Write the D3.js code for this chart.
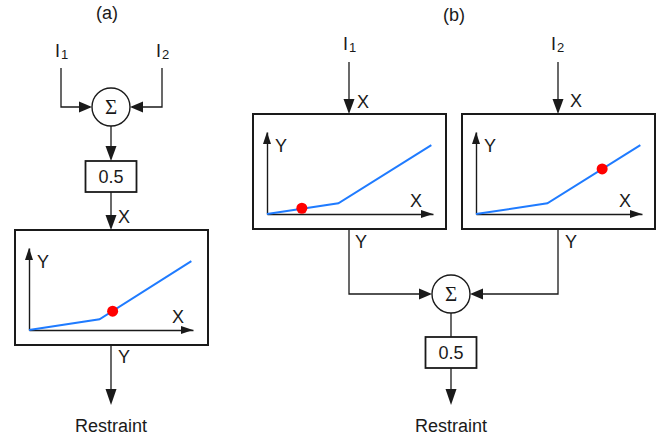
<!DOCTYPE html>
<html><head><meta charset="utf-8">
<script src="https://cdn.jsdelivr.net/npm/d3@7"></script>
<style>body{margin:0;background:#fff}svg{display:block}text{font-family:"Liberation Sans",Arial,sans-serif;fill:#1a1a1a}</style>
</head><body>
<script>
// ---- data ----
const panelLabels = ["(a)", "(b)"];
const inputNames = ["I", "I"];
const inputSubs = ["1", "2"];
const gainLabel = "0.5";
const outputLabel = "Restraint";
const sumSymbol = "\u03A3";
const axisLabels = ["X", "Y"];
// piecewise-linear transfer curve (normalized inset units)
const curveX = [0, 0.43, 0.99];
const curveY = [0, 0.13, 0.84];
// operating points: panel (a), panel (b) left, panel (b) right
const dotX = [0.51, 0.21, 0.76];
const dotY = [0.23, 0.07, 0.55];

const W = 669, H = 439;
const svg = d3.select("body").append("svg").attr("width", W).attr("height", H);
const ink = "#1a1a1a";

function arrow(tx, ty, dir, len, wid) {
  // dir: "down","up","right","left" ; tip at (tx,ty)
  let pts;
  if (dir === "down") pts = [[tx, ty], [tx - wid / 2, ty - len], [tx + wid / 2, ty - len]];
  if (dir === "up") pts = [[tx, ty], [tx - wid / 2, ty + len], [tx + wid / 2, ty + len]];
  if (dir === "right") pts = [[tx, ty], [tx - len, ty - wid / 2], [tx - len, ty + wid / 2]];
  if (dir === "left") pts = [[tx, ty], [tx + len, ty - wid / 2], [tx + len, ty + wid / 2]];
  svg.append("path").attr("d", "M" + pts.map(p => p.join(",")).join("L") + "Z").attr("fill", ink);
}
function line(pts, w = 1.3) {
  svg.append("path").attr("d", d3.line()(pts)).attr("fill", "none").attr("stroke", ink).attr("stroke-width", w);
}
function rect(x, y, w, h, sw = 2) {
  svg.append("rect").attr("x", x).attr("y", y).attr("width", w).attr("height", h)
    .attr("fill", "none").attr("stroke", ink).attr("stroke-width", sw);
}
function label(t, x, y, anchor = "start", size = 18) {
  return svg.append("text").attr("x", x).attr("y", y).attr("text-anchor", anchor).attr("font-size", size).text(t);
}
function inputLabel(i, x, y) {
  const t = svg.append("text").attr("x", x).attr("y", y).attr("font-size", 18);
  t.append("tspan").text(inputNames[i]);
  t.append("tspan").attr("font-size", 13).attr("dy", 2).attr("dx", 1).text(inputSubs[i]);
}
function sumNode(cx, cy) {
  svg.append("circle").attr("cx", cx).attr("cy", cy).attr("r", 19).attr("fill", "#fff").attr("stroke", ink).attr("stroke-width", 1.4);
  svg.append("text").attr("x", cx).attr("y", cy + 7).attr("text-anchor", "middle")
    .style("font-family", "'Liberation Serif','DejaVu Serif',serif").attr("font-size", 21).text(sumSymbol);
}
function gainBox(cx, y) {
  rect(cx - 25.5, y, 51, 31, 1.8);
  label(gainLabel, cx, y + 22, "middle");
}
function inset(bx, by, ox, oy, w, h, k) {
  rect(bx, by, 193, 115, 2);
  const x = d3.scaleLinear().domain([0, 1]).range([ox, ox + w]);
  const y = d3.scaleLinear().domain([0, 1]).range([oy, oy - h]);
  const gx = svg.append("g").attr("transform", `translate(0,${oy})`)
    .call(d3.axisBottom(x).ticks(0).tickSizeOuter(0));
  const gy = svg.append("g").attr("transform", `translate(${ox},0)`)
    .call(d3.axisLeft(y).ticks(0).tickSizeOuter(0));
  [gx, gy].forEach(g => g.select(".domain").attr("stroke", ink).attr("stroke-width", 1.4));
  arrow(x(1), oy, "right", 12, 8);
  arrow(ox, y(1), "up", 12, 8);
  const pts = curveX.map((v, i) => [x(v), y(curveY[i])]);
  svg.append("path").attr("d", d3.line()(pts)).attr("fill", "none").attr("stroke", "#1f7bff").attr("stroke-width", 2);
  svg.append("circle").attr("cx", x(dotX[k])).attr("cy", y(dotY[k])).attr("r", 5.5).attr("fill", "#ff0000");
  label(axisLabels[1], ox + 8, oy - 62);
  label(axisLabels[0], ox + 143, oy - 7);
}

// ---- panel (a) ----
label(panelLabels[0], 107, 19, "middle");
inputLabel(0, 55, 57);
inputLabel(1, 156, 57);
line([[61, 68], [61, 107], [90, 107]]);
arrow(92, 107, "right", 13, 11);
line([[162, 68], [162, 107], [132, 107]]);
arrow(130, 107, "left", 13, 11);
sumNode(111, 107);
line([[111, 126], [111, 150]]);
arrow(111, 161, "down", 15, 11);
gainBox(111, 161);
line([[111, 192], [111, 218]]);
arrow(111, 230, "down", 15, 11);
label(axisLabels[0], 118, 223);
inset(15, 230, 29, 330, 164, 82, 0);
line([[111, 345], [111, 392]]);
arrow(111, 405, "down", 16, 11);
label(axisLabels[1], 118, 363);
label(outputLabel, 111, 432, "middle");

// ---- panel (b) ----
label(panelLabels[1], 454, 21, "middle");
inputLabel(0, 343, 50);
inputLabel(1, 551, 50);
line([[349, 62], [349, 102]]);
arrow(349, 114, "down", 15, 11);
label(axisLabels[0], 357, 108);
line([[558, 62], [558, 102]]);
arrow(558, 114, "down", 15, 11);
label(axisLabels[0], 570, 107);
inset(253, 114, 267, 214, 166, 82, 1);
inset(462, 114, 476, 214, 166, 82, 2);
line([[349, 229], [349, 294], [420, 294]]);
arrow(432, 294, "right", 13, 11);
label(axisLabels[1], 355, 248);
line([[558, 229], [558, 294], [482, 294]]);
arrow(470, 294, "left", 13, 11);
label(axisLabels[1], 565, 248);
sumNode(451, 294);
line([[451, 313], [451, 337]]);
gainBox(451, 337);
line([[451, 368], [451, 392]]);
arrow(451, 405, "down", 16, 11);
label(outputLabel, 451, 432, "middle");
</script>
</body></html>
